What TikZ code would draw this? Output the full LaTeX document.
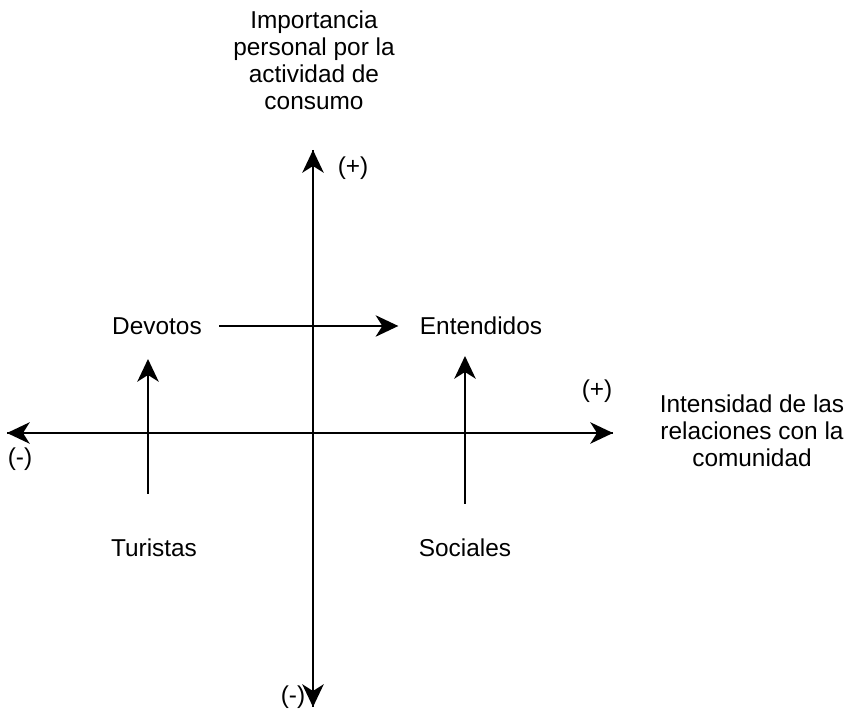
\documentclass[tikz,border=0pt]{standalone}
\usepackage{fontspec}
\setmainfont{Liberation Sans}
\usetikzlibrary{arrows.meta,positioning}

\begin{document}
\begin{tikzpicture}[x=0.75pt,y=-0.75pt,
    axis/.style={line width=1.8pt,-{Stealth[length=17pt,width=16pt,inset=5pt]}},
    lbl/.style={font=\fontsize{18.3}{20.25}\selectfont,align=center,inner sep=0pt}]
\useasboundingbox (0,0) rectangle (847,712);

% axes ends
\coordinate (vtop) at (313,150);
\coordinate (vbot) at (313,707);
\coordinate (hleft) at (7,433);
\coordinate (hright) at (613,433);
\draw[axis] (vbot) -- (vtop);
\draw[axis] (vtop) -- (vbot);
\draw[axis] (hright) -- (hleft);
\draw[axis] (hleft) -- (hright);

% axis titles
\node[lbl] (ytitle) at (314,60) {Importancia\\personal por la\\actividad de\\consumo};
\node[lbl] (xtitle) at (752,431) {Intensidad de las\\relaciones con la\\comunidad};
\node[lbl] (yplus) at (353,168) {(+)};
\node[lbl] (yminus) at (293,697) {(-)};
\node[lbl] (xplus) at (597,391) {(+)};
\node[lbl] (xminus) at (20,459) {(-)};

% groups
\node[lbl] (devotos) at (157,326) {Devotos};
\node[lbl] (entendidos) at (481,326) {Entendidos};
\node[lbl] (turistas) at (154,548) {Turistas};
\node[lbl] (sociales) at (465,548) {Sociales};

\draw[axis] ([xshift=13]devotos.east) -- ([xshift=-16]entendidos.west);
\draw[axis] (turistas.north -| 148,0) ++(0,-45) coordinate (t0) -- (148,359);
\draw[axis] (sociales.north -| 465,0) ++(0,-35) coordinate (s0) -- (465,356);
\end{tikzpicture}
\end{document}
